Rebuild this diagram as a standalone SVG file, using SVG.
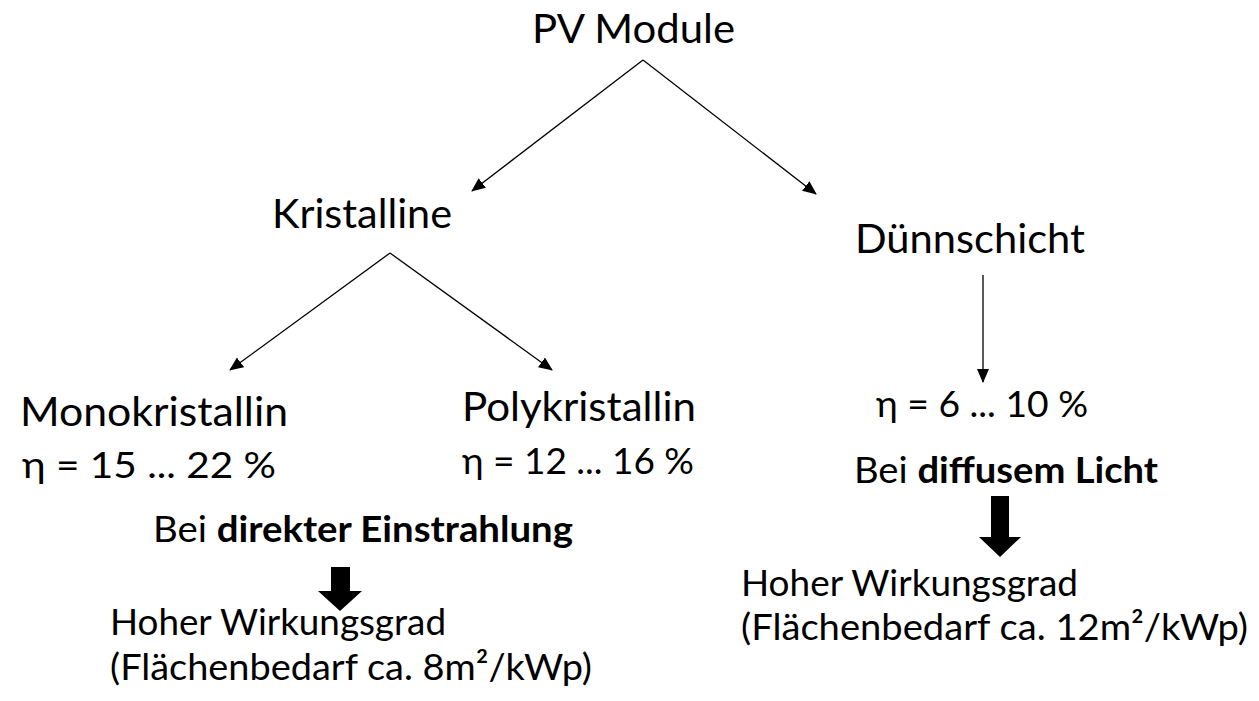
<svg xmlns="http://www.w3.org/2000/svg" width="1259" height="701" viewBox="0 0 1259 701">
<style>
text{font-family:Lato,"Open Sans","Noto Sans","Liberation Sans",sans-serif;fill:#000}
.big{font-size:41px}
.mid{font-size:37px}
.b{font-weight:bold}
.con{stroke:#000;stroke-width:1.3;fill:none}
.blk{fill:#000}
</style>
<defs>
<marker id="ah" markerUnits="userSpaceOnUse" markerWidth="14" markerHeight="12" refX="13" refY="6" orient="auto">
<path d="M0,0 L14,6 L0,12 z" fill="#000"/>
</marker>
</defs>
<rect width="1259" height="701" fill="#fff"/>
<g id="connectors">
<line class="con" x1="643" y1="60" x2="472" y2="191" marker-end="url(#ah)"/>
<line class="con" x1="643" y1="60" x2="816" y2="194" marker-end="url(#ah)"/>
<line class="con" x1="390" y1="253" x2="230" y2="370" marker-end="url(#ah)"/>
<line class="con" x1="390" y1="253" x2="552" y2="370" marker-end="url(#ah)"/>
<line class="con" x1="983" y1="275" x2="983" y2="382" marker-end="url(#ah)"/>
<path id="arrow-left" class="blk" d="M331,567 H350 V591 H362 L340,611 L318,591 H331 Z"/>
<path id="arrow-right" class="blk" d="M991,496 H1009 V537 H1021 L1000,557 L979,537 H991 Z"/>
</g>
<g id="pv-module"><text class="big" x="532" y="43" textLength="203" lengthAdjust="spacingAndGlyphs">PV Module</text></g>
<g id="kristalline"><text class="big" x="272" y="228" textLength="180" lengthAdjust="spacingAndGlyphs">Kristalline</text></g>
<g id="duennschicht"><text class="big" x="855" y="253" textLength="230" lengthAdjust="spacingAndGlyphs">Dünnschicht</text></g>
<g id="monokristallin">
<text class="big" x="20" y="426" textLength="268" lengthAdjust="spacingAndGlyphs">Monokristallin</text>
<text class="mid" x="22" y="478" textLength="254" lengthAdjust="spacingAndGlyphs">η = 15 ... 22 %</text>
</g>
<g id="polykristallin">
<text class="big" x="462" y="421" textLength="234" lengthAdjust="spacingAndGlyphs">Polykristallin</text>
<text class="mid" x="462" y="474" textLength="232" lengthAdjust="spacingAndGlyphs">η = 12 ... 16 %</text>
</g>
<g id="duenn-eta"><text class="mid" x="876" y="417" textLength="212" lengthAdjust="spacingAndGlyphs">η = 6 ... 10 %</text></g>
<g id="bei-direkt"><text class="mid" x="153" y="542" textLength="420" lengthAdjust="spacingAndGlyphs">Bei <tspan class="b">direkter Einstrahlung</tspan></text></g>
<g id="bei-diffus"><text class="mid" x="854" y="483" textLength="304" lengthAdjust="spacingAndGlyphs">Bei <tspan class="b">diffusem Licht</tspan></text></g>
<g id="result-left">
<text class="mid" x="110" y="635" textLength="336" lengthAdjust="spacingAndGlyphs">Hoher Wirkungsgrad</text>
<text class="mid" x="110" y="680" textLength="482" lengthAdjust="spacingAndGlyphs">(Flächenbedarf ca. 8m²/kWp)</text>
</g>
<g id="result-right">
<text class="mid" x="741" y="596" textLength="337" lengthAdjust="spacingAndGlyphs">Hoher Wirkungsgrad</text>
<text class="mid" x="741" y="640" textLength="507" lengthAdjust="spacingAndGlyphs">(Flächenbedarf ca. 12m²/kWp)</text>
</g>
</svg>
